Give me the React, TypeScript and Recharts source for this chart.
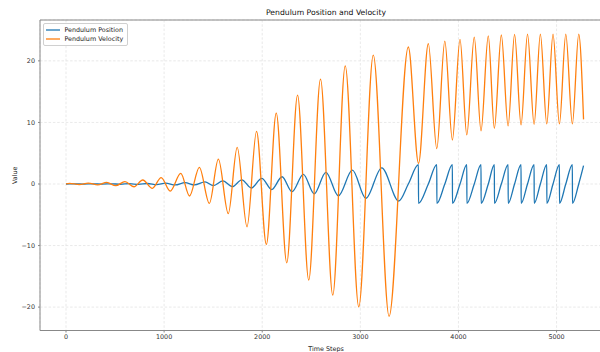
import React from "react"
import { LineChart, Line, XAxis, YAxis, CartesianGrid, Legend, ReferenceLine, Label } from "recharts"

// velocity extremes (step, value) read along the run
const velSteps = [
  0, 36, 136, 227, 323, 415, 507, 601, 693, 782, 880, 970, 1062, 1170, 1259, 1359, 1461, 1553, 1654,
  1745, 1845, 1942, 2042, 2143, 2250, 2360, 2474, 2594, 2719, 2846, 2984, 3132, 3293, 3489, 3593,
  3693, 3779, 3861, 3938, 4016, 4085, 4161, 4230, 4304, 4366, 4437, 4506, 4572, 4638, 4704, 4771,
  4835, 4900, 4964, 5029, 5094, 5161, 5226, 5275,
]
const velValues = [
  0, 0.1, -0.08, 0.15, -0.15, 0.25, -0.27, 0.4, -0.45, 0.65, -0.7, 1.05, -1.15, 1.72, -1.95, 2.7, -3.15,
  4.05, -4.8, 5.95, -6.95, 8.55, -9.8, 11.5, -12.8, 14.45, -15.6, 17.05, -18.05, 19.2, -19.95, 20.95,
  -21.5, 22.25, 3.36, 22.8, 5.75, 23.2, 7.15, 23.5, 7.97, 23.85, 8.65, 24.05, 9.05, 24.2, 9.43, 24.3,
  9.6, 24.35, 9.7, 24.35, 9.75, 24.35, 9.75, 24.35, 9.75, 24.35, 10.5,
]

// angle: swinging first, then wrapping at +/- pi once it goes over the top
const posSteps = [
  0, 86, 181, 275, 369, 461, 554, 647, 738, 831, 924, 1015, 1113, 1213, 1310, 1417, 1502, 1600, 1695,
  1792, 1890, 1995, 2097, 2202, 2304, 2419, 2530, 2649, 2776, 2919, 3056, 3218, 3391, 3489,
  3592, 3593, 3693, 3779, 3780, 3861, 3938, 3939, 4016, 4085, 4086, 4161, 4230, 4231, 4304,
  4366, 4367, 4437, 4506, 4507, 4572, 4638, 4639, 4704, 4771, 4772, 4835, 4900, 4901, 4964,
  5029, 5030, 5094, 5161, 5162, 5226, 5275,
]
const posValues = [
  0, 0.01, -0.01, 0.02, -0.02, 0.03, -0.04, 0.05, -0.06, 0.08, -0.1, 0.13, -0.15, 0.22, -0.15, 0.33,
  -0.25, 0.5, -0.43, 0.68, -0.65, 0.92, -0.9, 1.18, -1.25, 1.57, -1.6, 1.9, -1.93, 2.25, -2.33, 2.63,
  -2.76, 0,
  3.14, -3.14, 0, 3.14, -3.14, 0, 3.14, -3.14, 0, 3.14, -3.14, 0, 3.14, -3.14, 0,
  3.14, -3.14, 0, 3.14, -3.14, 0, 3.14, -3.14, 0, 3.14, -3.14, 0, 3.14, -3.14, 0,
  3.14, -3.14, 0, 3.14, -3.14, 0, 2.97,
]

const xTicks = [0, 1000, 2000, 3000, 4000, 5000]
const yTicks = [-20, -10, 0, 10, 20]

const velData = velSteps.map((t, i) => ({ t, v: velValues[i] }))
const posData = posSteps.map((t, i) => ({ t, v: posValues[i] }))

const BLUE = "#1f77b4"
const ORANGE = "#ff7f0e"
const FONT = "'DejaVu Sans', sans-serif"
const Y_DOMAIN: [number, number] = [-23.8, 26.64]

const minus = (v: number) => String(v).replace("-", "\u2212")

const legendItems = [
  { label: "Pendulum Position", color: BLUE },
  { label: "Pendulum Velocity", color: ORANGE },
]

const LegendBox = () => (
  <div
    style={{
      border: "1px solid #d0d0d0",
      borderRadius: 2,
      background: "rgba(255,255,255,0.85)",
      padding: "1.2px 3.4px 1.2px 2px",
      fontFamily: FONT,
      fontSize: 6.4,
      color: "#222",
    }}
  >
    {legendItems.map((it) => (
      <div key={it.label} style={{ display: "flex", alignItems: "center", height: 9.7 }}>
        <svg width={14} height={4} style={{ marginRight: 4.7 }}>
          <line x1={0} y1={2} x2={14} y2={2} stroke={it.color} strokeWidth={1.3} />
        </svg>
        <span style={{ whiteSpace: "nowrap" }}>{it.label}</span>
      </div>
    ))}
  </div>
)

export default function App() {
  return (
    <div style={{ position: "absolute", left: 0, top: 0, width: 600, height: 352, overflow: "hidden", background: "#fff" }}>
      <div
        style={{
          position: "absolute",
          left: 0,
          top: 9.3,
          width: 652,
          textAlign: "center",
          fontFamily: FONT,
          fontSize: 7.7,
          lineHeight: "8px",
          color: "#111",
        }}
      >
        Pendulum Position and Velocity
      </div>
      <LineChart width={625} height={352} margin={{ top: 20, right: 13, bottom: 0, left: 0 }}>
        <CartesianGrid stroke="#e3e3e3" strokeDasharray="2.5 1.8" strokeWidth={0.8} />
        <XAxis
          type="number"
          dataKey="t"
          domain={[-265, 5565]}
          ticks={xTicks}
          allowDataOverflow
          height={21.5}
          tickSize={2}
          tickMargin={2}
          stroke="#888"
          tick={{ fontSize: 6.4, fill: "#333", fontFamily: FONT }}
        >
          <Label value="Time Steps" position="insideBottom" offset={1.5} style={{ fontSize: 6.4, fill: "#222", fontFamily: FONT }} />
        </XAxis>
        <YAxis
          type="number"
          domain={Y_DOMAIN}
          ticks={yTicks}
          allowDataOverflow
          width={40}
          tickSize={2}
          tickMargin={3}
          stroke="#888"
          tickFormatter={minus}
          tick={{ fontSize: 6.4, fill: "#333", fontFamily: FONT }}
        >
          <Label
            content={({ viewBox }: any) => {
              const cx = viewBox.x + 15
              const cy = viewBox.y + viewBox.height / 2
              return (
                <text
                  x={cx}
                  y={cy}
                  transform={`rotate(-90 ${cx} ${cy})`}
                  textAnchor="middle"
                  dominantBaseline="central"
                  style={{ fontSize: 6.4, fill: "#222", fontFamily: FONT }}
                >
                  Value
                </text>
              )
            }}
          />
        </YAxis>
        <ReferenceLine y={Y_DOMAIN[1]} stroke="#888" strokeWidth={1} />
        <Legend
          layout="horizontal"
          verticalAlign="middle"
          align="center"
          content={() => <LegendBox />}
          wrapperStyle={{ left: 42.7, top: 22.7, width: "auto" }}
        />
        <Line
          data={posData}
          dataKey="v"
          type="monotone"
          stroke={BLUE}
          strokeWidth={1.3}
          dot={false}
          isAnimationActive={false}
        />
        <Line
          data={velData}
          dataKey="v"
          type="monotone"
          stroke={ORANGE}
          strokeWidth={1.3}
          dot={false}
          isAnimationActive={false}
        />
      </LineChart>
    </div>
  )
}
